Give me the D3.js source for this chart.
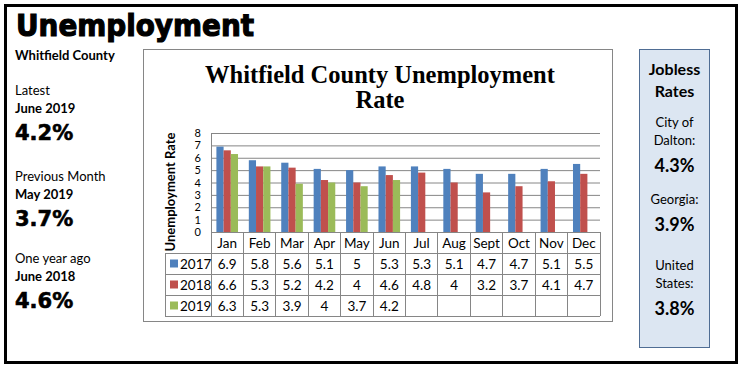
<!DOCTYPE html>
<html>
<head>
<meta charset="utf-8">
<script src="https://cdn.jsdelivr.net/npm/d3@7"></script>
<style>
  body { margin: 0; background: #fff; }
  svg { display: block; }
</style>
</head>
<body>
<svg id="chart" width="744" height="371"></svg>
<script>
const months = ['Jan', 'Feb', 'Mar', 'Apr', 'May', 'Jun', 'Jul', 'Aug', 'Sept', 'Oct', 'Nov', 'Dec']
const years = ['2017', '2018', '2019']
const rates2017 = [6.9, 5.8, 5.6, 5.1, 5, 5.3, 5.3, 5.1, 4.7, 4.7, 5.1, 5.5]
const rates2018 = [6.6, 5.3, 5.2, 4.2, 4, 4.6, 4.8, 4, 3.2, 3.7, 4.1, 4.7]
const rates2019 = [6.3, 5.3, 3.9, 4, 3.7, 4.2, null, null, null, null, null, null]
const yTicks = [0, 1, 2, 3, 4, 5, 6, 7, 8]

const sideLabels = [
  { label: 'Latest', period: 'June 2019', value: '4.2%' },
  { label: 'Previous Month', period: 'May 2019', value: '3.7%' },
  { label: 'One year ago', period: 'June 2018', value: '4.6%' }
]
const joblessPlaces = [['City of', 'Dalton:'], ['Georgia:'], ['United', 'States:']]
const joblessValues = ['4.3%', '3.9%', '3.8%']

const series = [rates2017, rates2018, rates2019]
const colors = d3.scaleOrdinal(years, ['#4f81bd', '#c0504d', '#9bbb59'])

const svg = d3.select('#chart')
const sans = 'Lato, "Open Sans", sans-serif'
const heavy = '"DejaVu Sans", sans-serif'

// outer frame
svg.append('rect')
  .attr('x', 5.5).attr('y', 5.5).attr('width', 731).attr('height', 357)
  .attr('fill', 'none').attr('stroke', '#000').attr('stroke-width', 3)

svg.append('text')
  .attr('x', 16).attr('y', 36)
  .attr('font-family', heavy).attr('font-weight', 'bold').attr('font-size', 30)
  .attr('stroke', '#000').attr('stroke-width', 1.2)
  .attr('textLength', 238).attr('lengthAdjust', 'spacingAndGlyphs')
  .text('Unemployment')

svg.append('text')
  .attr('x', 15).attr('y', 60)
  .attr('font-family', sans).attr('font-weight', 'bold').attr('font-size', 13)
  .text('Whitfield County')

// left column figures
const sideY = [95, 181, 263]
sideLabels.forEach((d, i) => {
  const y0 = sideY[i]
  svg.append('text').attr('x', 15).attr('y', y0)
    .attr('font-family', sans).attr('font-size', 13).text(d.label)
  svg.append('text').attr('x', 15).attr('y', y0 + 18)
    .attr('font-family', sans).attr('font-weight', 'bold').attr('font-size', 13).text(d.period)
  svg.append('text').attr('x', 15).attr('y', y0 + 45)
    .attr('font-family', heavy).attr('font-weight', 'bold').attr('font-size', 21)
    .attr('stroke', '#000').attr('stroke-width', 0.6)
    .text(d.value)
})

// chart box
svg.append('rect')
  .attr('x', 143.5).attr('y', 49.5).attr('width', 469).attr('height', 272)
  .attr('fill', '#fff').attr('stroke', '#868686')

const title = svg.append('text')
  .attr('text-anchor', 'middle')
  .attr('font-family', '"Liberation Serif", serif').attr('font-weight', 'bold').attr('font-size', 24.5)
title.append('tspan').attr('x', 380).attr('y', 83).text('Whitfield County Unemployment')
title.append('tspan').attr('x', 380).attr('y', 108).text('Rate')

const x = d3.scaleBand().domain(months).range([211, 600])
const xInner = d3.scaleBand().domain(years).range([0, x.bandwidth()]).paddingOuter(0.75)
const y = d3.scaleLinear().domain([0, 8]).range([232, 133])
const rowY = d3.scaleBand().domain(['month'].concat(years)).range([232, 316])

// gridlines + y axis
const yAxis = svg.append('g')
  .attr('transform', 'translate(211,0)')
  .call(d3.axisLeft(y).tickValues(yTicks).tickSize(-389).tickPadding(10).tickFormat(d3.format('d')))
yAxis.select('.domain').remove()
yAxis.selectAll('.tick line').attr('stroke', '#868686')
yAxis.selectAll('.tick text')
  .attr('font-family', sans).attr('font-size', 11).attr('fill', '#000')

svg.append('text')
  .attr('transform', 'translate(175,192) rotate(-90)')
  .attr('text-anchor', 'middle')
  .attr('font-family', sans).attr('font-weight', 'bold').attr('font-size', 13)
  .text('Unemployment Rate')

// bars
years.forEach((yr, si) => {
  svg.append('g').selectAll('rect')
    .data(series[si].map((v, i) => ({ month: months[i], v })).filter(d => d.v != null))
    .join('rect')
    .attr('x', d => x(d.month) + xInner(yr))
    .attr('y', d => y(d.v))
    .attr('width', xInner.bandwidth())
    .attr('height', d => y(0) - y(d.v))
    .attr('fill', colors(yr))
})

// data table
const grid = svg.append('g').attr('stroke', '#868686').attr('shape-rendering', 'crispEdges')
// vertical lines through plot and table
months.forEach(m => {
  grid.append('line')
    .attr('x1', x(m)).attr('x2', x(m))
    .attr('y1', m === months[0] ? y(8) : y(0)).attr('y2', rowY.range()[1])
})
grid.append('line').attr('x1', x.range()[1]).attr('x2', x.range()[1])
  .attr('y1', y(0)).attr('y2', rowY.range()[1])
grid.append('line').attr('x1', 165).attr('x2', 165)
  .attr('y1', rowY(years[0])).attr('y2', rowY.range()[1])
// horizontal lines
years.forEach(yr => {
  grid.append('line').attr('x1', 165).attr('x2', 600)
    .attr('y1', rowY(yr)).attr('y2', rowY(yr))
})
grid.append('line').attr('x1', 165).attr('x2', 600)
  .attr('y1', rowY.range()[1]).attr('y2', rowY.range()[1])

const cellText = svg.append('g')
  .attr('font-family', sans).attr('font-size', 13.5).attr('text-anchor', 'middle')

cellText.selectAll('.m').data(months).join('text')
  .attr('x', d => x(d) + x.bandwidth() / 2)
  .attr('y', rowY('month') + rowY.bandwidth() / 2 + 5)
  .text(d => d)

years.forEach((yr, si) => {
  const cy = rowY(yr) + rowY.bandwidth() / 2
  svg.append('rect')
    .attr('x', 170).attr('y', cy - 4).attr('width', 8).attr('height', 8)
    .attr('fill', colors(yr))
  svg.append('text').attr('x', 180).attr('y', cy + 5)
    .attr('font-family', sans).attr('font-size', 13.5).text(yr)
  cellText.append('g').selectAll('text')
    .data(series[si].map((v, i) => ({ month: months[i], v })).filter(d => d.v != null))
    .join('text')
    .attr('x', d => x(d.month) + x.bandwidth() / 2)
    .attr('y', cy + 5)
    .text(d => d.v)
})

// jobless box
svg.append('rect')
  .attr('x', 639.5).attr('y', 49.5).attr('width', 70).attr('height', 298)
  .attr('fill', '#dce6f2').attr('stroke', '#4f6d94')

const jc = 674.5
svg.append('text').attr('x', jc).attr('y', 75).attr('text-anchor', 'middle')
  .attr('font-family', sans).attr('font-weight', 'bold').attr('font-size', 16).text('Jobless')
svg.append('text').attr('x', jc).attr('y', 97).attr('text-anchor', 'middle')
  .attr('font-family', sans).attr('font-weight', 'bold').attr('font-size', 16).text('Rates')

const placeTop = [127, 204, 270]
joblessPlaces.forEach((lines, i) => {
  lines.forEach((t, j) => {
    svg.append('text').attr('x', jc).attr('y', placeTop[i] + j * 18).attr('text-anchor', 'middle')
      .attr('font-family', sans).attr('font-size', 13).text(t)
  })
  svg.append('text').attr('x', jc).attr('y', placeTop[i] + (lines.length - 1) * 18 + 27)
    .attr('text-anchor', 'middle')
    .attr('font-family', sans).attr('font-weight', 'bold').attr('font-size', 18)
    .text(joblessValues[i])
})
</script>
</body>
</html>
